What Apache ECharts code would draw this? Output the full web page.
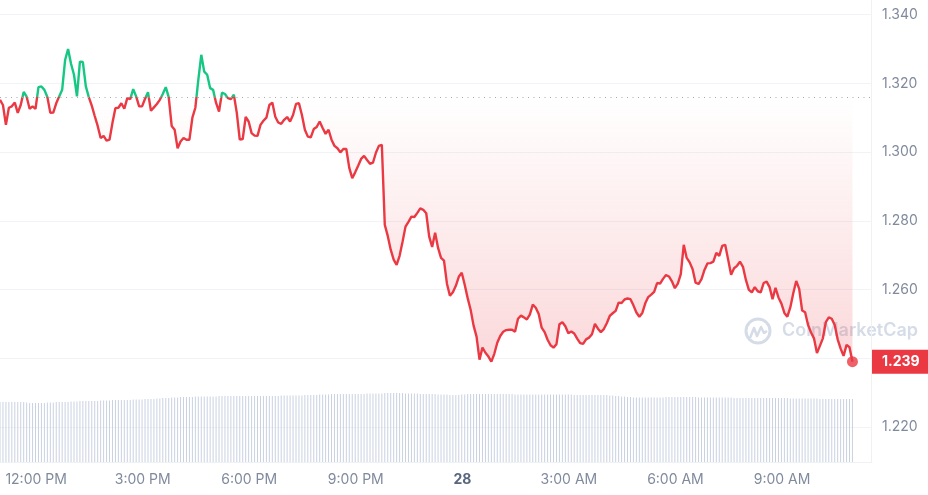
<!DOCTYPE html>
<html>
<head>
<meta charset="utf-8">
<script src="https://cdn.jsdelivr.net/npm/echarts@6/dist/echarts.min.js"></script>
<style>
  html, body { margin: 0; padding: 0; background: #fff; }
  #chart { width: 928px; height: 495px; }
</style>
</head>
<body>
<div id="chart"></div>
<script>
// 5 minute samples, first one at 10:59 AM on the 27th (minutes since midnight)
const startMinute = 659;
const stepMinutes = 5;
const openPrice = 1.316;

const prices = [
  1.3152, 1.3137, 1.3079, 1.3129, 1.3133, 1.3144, 1.3114, 1.3137, 1.3175, 1.3161,
  1.3126, 1.3133, 1.3126, 1.3189, 1.3191, 1.3181, 1.3160, 1.3114, 1.3115, 1.3142,
  1.3162, 1.3181, 1.3268, 1.3300, 1.3257, 1.3225, 1.3162, 1.3263, 1.3262, 1.3191,
  1.3160, 1.3135, 1.3105, 1.3076, 1.3041, 1.3047, 1.3033, 1.3036, 1.3085, 1.3128,
  1.3129, 1.3142, 1.3126, 1.3157, 1.3154, 1.3183, 1.3162, 1.3133, 1.3133, 1.3155,
  1.3174, 1.3120, 1.3130, 1.3140, 1.3152, 1.3169, 1.3189, 1.3160, 1.3076, 1.3065,
  1.3011, 1.3031, 1.3041, 1.3036, 1.3036, 1.3100, 1.3129, 1.3210, 1.3283, 1.3234,
  1.3225, 1.3186, 1.3181, 1.3143, 1.3118, 1.3173, 1.3169, 1.3157, 1.3154, 1.3167,
  1.3114, 1.3036, 1.3038, 1.3102, 1.3089, 1.3055, 1.3048, 1.3047, 1.3079, 1.3091,
  1.3100, 1.3137, 1.3144, 1.3103, 1.3086, 1.3082, 1.3094, 1.3102, 1.3089, 1.3108,
  1.3140, 1.3142, 1.3108, 1.3065, 1.3045, 1.3043, 1.3067, 1.3073, 1.3089, 1.3070,
  1.3053, 1.3065, 1.3036, 1.3018, 1.3011, 1.2999, 1.3009, 1.3009, 1.2954, 1.2924,
  1.2941, 1.2960, 1.2980, 1.2989, 1.2977, 1.2966, 1.2969, 1.2998, 1.3018, 1.3021,
  1.2788, 1.2756, 1.2716, 1.2687, 1.2672, 1.2698, 1.2739, 1.2783, 1.2797, 1.2812,
  1.2811, 1.2823, 1.2836, 1.2832, 1.2822, 1.2754, 1.2724, 1.2765, 1.2721, 1.2692,
  1.2684, 1.2617, 1.2582, 1.2592, 1.2611, 1.2637, 1.2649, 1.2614, 1.2575, 1.2541,
  1.2495, 1.2463, 1.2396, 1.2431, 1.2416, 1.2405, 1.2390, 1.2413, 1.2445, 1.2465,
  1.2477, 1.2482, 1.2483, 1.2483, 1.2477, 1.2515, 1.2524, 1.2519, 1.2513, 1.2527,
  1.2556, 1.2547, 1.2529, 1.2489, 1.2476, 1.2454, 1.2438, 1.2431, 1.2441, 1.2499,
  1.2505, 1.2493, 1.2473, 1.2478, 1.2472, 1.2457, 1.2444, 1.2442, 1.2455, 1.2460,
  1.2470, 1.2500, 1.2486, 1.2476, 1.2485, 1.2502, 1.2523, 1.2531, 1.2538, 1.2562,
  1.2561, 1.2571, 1.2574, 1.2572, 1.2554, 1.2533, 1.2521, 1.2532, 1.2560, 1.2578,
  1.2585, 1.2593, 1.2619, 1.2617, 1.2631, 1.2642, 1.2638, 1.2624, 1.2604, 1.2617,
  1.2645, 1.2730, 1.2692, 1.2679, 1.2659, 1.2620, 1.2616, 1.2630, 1.2657, 1.2676,
  1.2677, 1.2681, 1.2707, 1.2698, 1.2727, 1.2730, 1.2687, 1.2643, 1.2662, 1.2669,
  1.2681, 1.2666, 1.2628, 1.2599, 1.2592, 1.2607, 1.2595, 1.2592, 1.2619, 1.2623,
  1.2607, 1.2572, 1.2605, 1.2577, 1.2559, 1.2532, 1.2521, 1.2548, 1.2589, 1.2625,
  1.2602, 1.2539, 1.2534, 1.2497, 1.2475, 1.2458, 1.2415, 1.2436, 1.2458, 1.2505,
  1.2519, 1.2515, 1.2497, 1.2455, 1.2428, 1.2407, 1.2439, 1.2432, 1.2390
];

const volumes = [
  60, 60, 60, 60, 60, 60, 60, 60, 60, 59.5,
  59, 59, 59, 59, 59, 59, 59.5, 59.5, 59.5, 60,
  60, 60, 60, 60, 60.5, 60.5, 60.5, 61, 61, 61,
  61, 61, 61, 61, 61.5, 61.5, 61.5, 61.5, 62, 62,
  62, 62, 62, 62, 62, 62.5, 62.5, 62.5, 62.5, 63,
  63, 63, 63, 63.5, 63.5, 64, 64, 64, 64.5, 64.5,
  64.5, 65, 65, 65, 65, 65, 65.5, 65.5, 65.5, 65.5,
  65.5, 65.5, 65.5, 65.5, 66, 66, 66, 66, 66, 66,
  66, 66, 66, 66, 66, 66, 66, 66, 66, 66,
  66, 66, 66, 66, 66, 66.5, 66.5, 66.5, 66.5, 66.5,
  66.5, 66.5, 66.5, 67, 67, 67, 67, 67, 67.5, 67.5,
  67.5, 67.5, 68, 68, 68, 68, 68, 68, 68, 68,
  68, 68, 68, 68, 68.5, 68.5, 68.5, 68.5, 68.5, 68.5,
  69, 69, 69, 69, 69, 69, 69, 68.5, 68.5, 68.5,
  68.5, 68.5, 68, 68, 68, 68, 68, 68, 67.5, 67.5,
  67.5, 67.5, 67, 67, 67, 67, 67.5, 67.5, 68, 68,
  68, 68, 68, 68, 68, 68, 68, 68, 68, 68,
  68, 68, 68, 68, 67.5, 67.5, 67.5, 67.5, 67.5, 67.5,
  67.5, 67.5, 67.5, 67.5, 67.5, 67.5, 67.5, 67.5, 67.5, 67.5,
  67.5, 67.5, 67.5, 67.5, 67, 67, 67, 67, 67, 67,
  67, 67, 67, 67, 67, 67, 66.5, 66.5, 66, 66,
  65.5, 65.5, 65, 65, 64.5, 64.5, 64.5, 64.5, 64.5, 64.5,
  64.5, 64.5, 64.5, 64.5, 64.5, 65, 65, 65, 65, 65,
  65, 65, 65, 65, 65, 65, 64.5, 64.5, 64.5, 64.5,
  64.5, 64.5, 64.5, 64.5, 64.5, 64.5, 64.5, 64.5, 64, 64,
  64, 64, 64, 64, 64, 64, 64, 64, 64, 64,
  64, 64, 64, 64, 64, 64, 64, 63.5, 63.5, 63.5,
  63.5, 63.5, 63.5, 63.5, 63.5, 63.5, 63.5, 63, 63, 63,
  63, 63, 63, 63, 63, 63, 63, 63, 63
];

const tickMinutes = [720, 900, 1080, 1260, 1440, 1620, 1800, 1980];
const tickLabels = ['12:00 PM', '3:00 PM', '6:00 PM', '9:00 PM', '28', '3:00 AM', '6:00 AM', '9:00 AM'];

const RED = '#ea3943';
const GREEN = '#16c784';
const GRAY = '#808a9d';
const FONT = 'Inter';
const HEIGHT = 495;

const xMin = startMinute;
const xMax = startMinute + 1473;

const priceData = prices.map((v, i) => [startMinute + i * stepMinutes, v]);
const volumeData = volumes.map((v, i) => [startMinute + i * stepMinutes, v]);
const last = priceData[priceData.length - 1];

const chart = echarts.init(document.getElementById('chart'));

chart.setOption({
  animation: false,
  grid: [
    { left: 0, right: 56, top: 14.6, bottom: 68 },
    { left: 0, right: 56, top: 382, bottom: 33 },
  ],
  xAxis: [
    {
      type: 'value',
      gridIndex: 0,
      min: xMin,
      max: xMax,
      axisLine: { show: false },
      axisTick: { show: false },
      axisLabel: { show: false },
      splitLine: { show: false },
    },
    {
      type: 'value',
      gridIndex: 1,
      min: xMin,
      max: xMax,
      axisLine: { show: true, lineStyle: { color: '#eff2f5', width: 1 } },
      axisTick: { show: false },
      splitLine: { show: false },
      axisLabel: {
        customValues: tickMinutes,
        margin: 11,
        color: GRAY,
        fontSize: 14,
        fontFamily: FONT,
        formatter(val) {
          const t = tickLabels[tickMinutes.indexOf(Math.round(val))];
          return t === '28' ? '{b|28}' : t;
        },
        rich: {
          b: { fontWeight: 'bold', color: '#58667e', fontSize: 14, fontFamily: FONT },
        },
      },
    },
  ],
  yAxis: [
    {
      type: 'value',
      gridIndex: 0,
      position: 'right',
      min: 1.22,
      max: 1.34,
      interval: 0.02,
      axisLine: { show: false },
      axisTick: { show: false },
      splitLine: { lineStyle: { color: '#f1f3f6', width: 1 } },
      axisLabel: {
        margin: 10,
        color: GRAY,
        fontSize: 14,
        fontFamily: FONT,
        formatter: (v) => v.toFixed(3),
      },
    },
    {
      type: 'value',
      gridIndex: 1,
      min: 0,
      max: 80,
      show: false,
    },
  ],
  graphic: [
    {
      type: 'line',
      z: 1,
      shape: { x1: 871.5, y1: 0, x2: 871.5, y2: 462 },
      style: { stroke: '#eff2f5', lineWidth: 1 },
    },
    {
      type: 'group',
      x: 745,
      y: 318,
      z: 1,
      children: [
        {
          type: 'circle',
          shape: { cx: 13, cy: 13, r: 12 },
          style: { fill: 'none', stroke: '#d5dce7', lineWidth: 3 },
        },
        {
          type: 'polyline',
          shape: { points: [[5, 20], [9, 10], [12, 18], [16, 9], [19, 15], [22, 13]] },
          style: { fill: 'none', stroke: '#d5dce7', lineWidth: 2.5, lineJoin: 'round' },
        },
        {
          type: 'text',
          x: 37,
          y: 13,
          style: {
            text: 'CoinMarketCap',
            font: '600 18px Inter',
            fill: '#d5dce7',
            verticalAlign: 'middle',
          },
        },
      ],
    },
  ],
  series: [
    {
      id: 'price',
      type: 'line',
      xAxisIndex: 0,
      yAxisIndex: 0,
      data: priceData,
      showSymbol: false,
      z: 3,
      lineStyle: { width: 2.4, color: RED },
      areaStyle: { origin: openPrice, color: 'rgba(234,57,67,0.1)' },
      markLine: {
        silent: true,
        precision: 4,
        symbol: ['none', 'none'],
        label: { show: false },
        lineStyle: { color: '#a1a9b8', type: [1, 4.5], width: 1.2 },
        data: [{ yAxis: openPrice }],
      },
    },
    {
      type: 'bar',
      xAxisIndex: 1,
      yAxisIndex: 1,
      data: volumeData,
      barWidth: 1,
      itemStyle: { color: '#c9d1e1' },
      z: 2,
    },
    {
      type: 'scatter',
      xAxisIndex: 0,
      yAxisIndex: 0,
      data: [last],
      symbolSize: 11,
      itemStyle: { color: RED },
      z: 5,
      markLine: {
        silent: true,
        precision: 4,
        symbol: ['none', 'none'],
        lineStyle: { color: 'rgba(0,0,0,0)', width: 0 },
        data: [{ yAxis: last[1] }],
        label: {
          position: 'end',
          distance: 0,
          formatter: last[1].toFixed(3),
          backgroundColor: RED,
          color: '#fff',
          fontSize: 14,
          fontWeight: 'bold',
          fontFamily: FONT,
          padding: [5, 10, 5, 10],
        },
      },
    },
  ],
});

// split colours at the open price: green above, red below
const yBase = chart.convertToPixel({ yAxisIndex: 0 }, openPrice) / HEIGHT;
const yLow = chart.convertToPixel({ yAxisIndex: 0 }, Math.min(...prices)) / HEIGHT;
chart.setOption({
  series: [{
    id: 'price',
    lineStyle: {
      color: {
        type: 'linear', x: 0, y: 0, x2: 0, y2: HEIGHT, global: true,
        colorStops: [
          { offset: 0, color: GREEN },
          { offset: yBase, color: GREEN },
          { offset: yBase, color: RED },
          { offset: 1, color: RED },
        ],
      },
    },
    areaStyle: {
      color: {
        type: 'linear', x: 0, y: 0, x2: 0, y2: HEIGHT, global: true,
        colorStops: [
          { offset: 0, color: 'rgba(22,199,132,0.16)' },
          { offset: yBase, color: 'rgba(22,199,132,0)' },
          { offset: yBase, color: 'rgba(234,57,67,0)' },
          { offset: yLow, color: 'rgba(234,57,67,0.28)' },
          { offset: 1, color: 'rgba(234,57,67,0.28)' },
        ],
      },
    },
  }],
});
</script>
</body>
</html>
